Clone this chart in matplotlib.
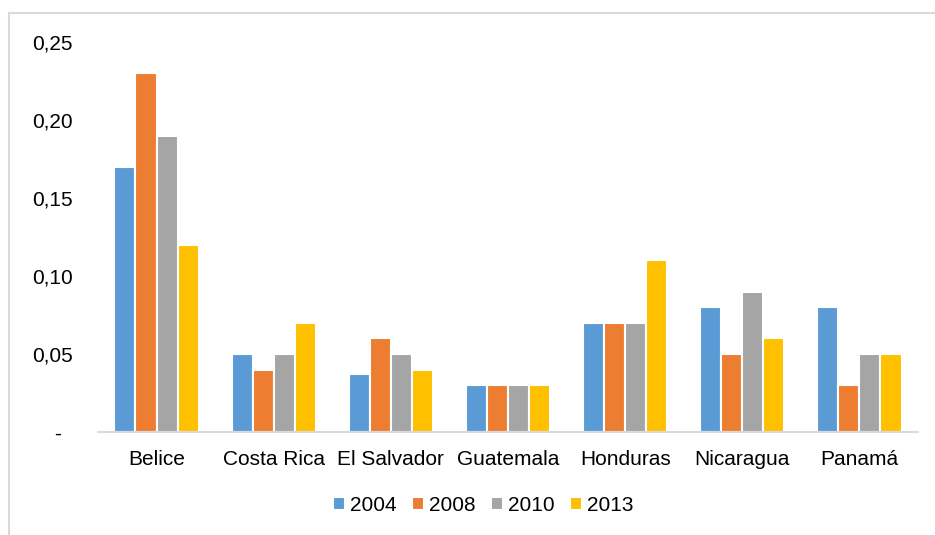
import matplotlib
matplotlib.use("Agg")
import matplotlib.pyplot as plt
from matplotlib.patches import Rectangle
import numpy as np

plt.rcParams['font.family'] = ['Liberation Sans', 'DejaVu Sans']

countries = ['Belice', 'Costa Rica', 'El Salvador', 'Guatemala', 'Honduras', 'Nicaragua', 'Panamá']
years = ['2004', '2008', '2010', '2013']
v2004 = [0.17, 0.05, 0.037, 0.03, 0.07, 0.08, 0.08]
v2008 = [0.23, 0.04, 0.06, 0.03, 0.07, 0.05, 0.03]
v2010 = [0.19, 0.05, 0.05, 0.03, 0.07, 0.09, 0.05]
v2013 = [0.12, 0.07, 0.04, 0.03, 0.11, 0.06, 0.05]
colors = ['#5B9BD5', '#ED7D31', '#A5A5A5', '#FFC000']

yticks = [0, 0.05, 0.10, 0.15, 0.20, 0.25]
ylabels = ['-  ', '0,05', '0,10', '0,15', '0,20', '0,25']

fig = plt.figure(figsize=(9.35, 5.35), dpi=100)
ax = fig.add_axes([0.1048, 0.1925, 0.877, 0.729])

# light frame around the chart area
fig.patches.append(Rectangle((9 / 935, -0.1), 1.2, 1.1 - 13 / 535,
                             transform=fig.transFigure, fill=False,
                             edgecolor='#d9d9d9', linewidth=1.5))

x = np.arange(len(countries))
step = 0.18
for i, (vals, yr) in enumerate(zip([v2004, v2008, v2010, v2013], years)):
    ax.bar(x + (i - 1.5) * step, vals, width=step, color=colors[i],
           edgecolor='white', linewidth=1.5, label=yr)

ax.set_xlim(-0.5, len(countries) - 0.5)
ax.set_ylim(0, 0.25)
ax.set_yticks(yticks)
ax.set_yticklabels(ylabels)
ax.set_xticks(x)
ax.set_xticklabels(countries)
ax.tick_params(axis='y', length=0, pad=18, labelsize=15)
ax.tick_params(axis='x', length=0, pad=13, labelsize=15)

for s in ['top', 'right', 'left']:
    ax.spines[s].set_visible(False)
ax.spines['bottom'].set_color('#d9d9d9')
ax.spines['bottom'].set_linewidth(1.5)

fig.legend(loc='center', bbox_to_anchor=(0.517, 0.055), ncol=4, frameon=False,
           fontsize=15, handlelength=0.55, handleheight=0.55, handletextpad=0.25,
           columnspacing=0.75)

fig.savefig('out.png', dpi=100)
